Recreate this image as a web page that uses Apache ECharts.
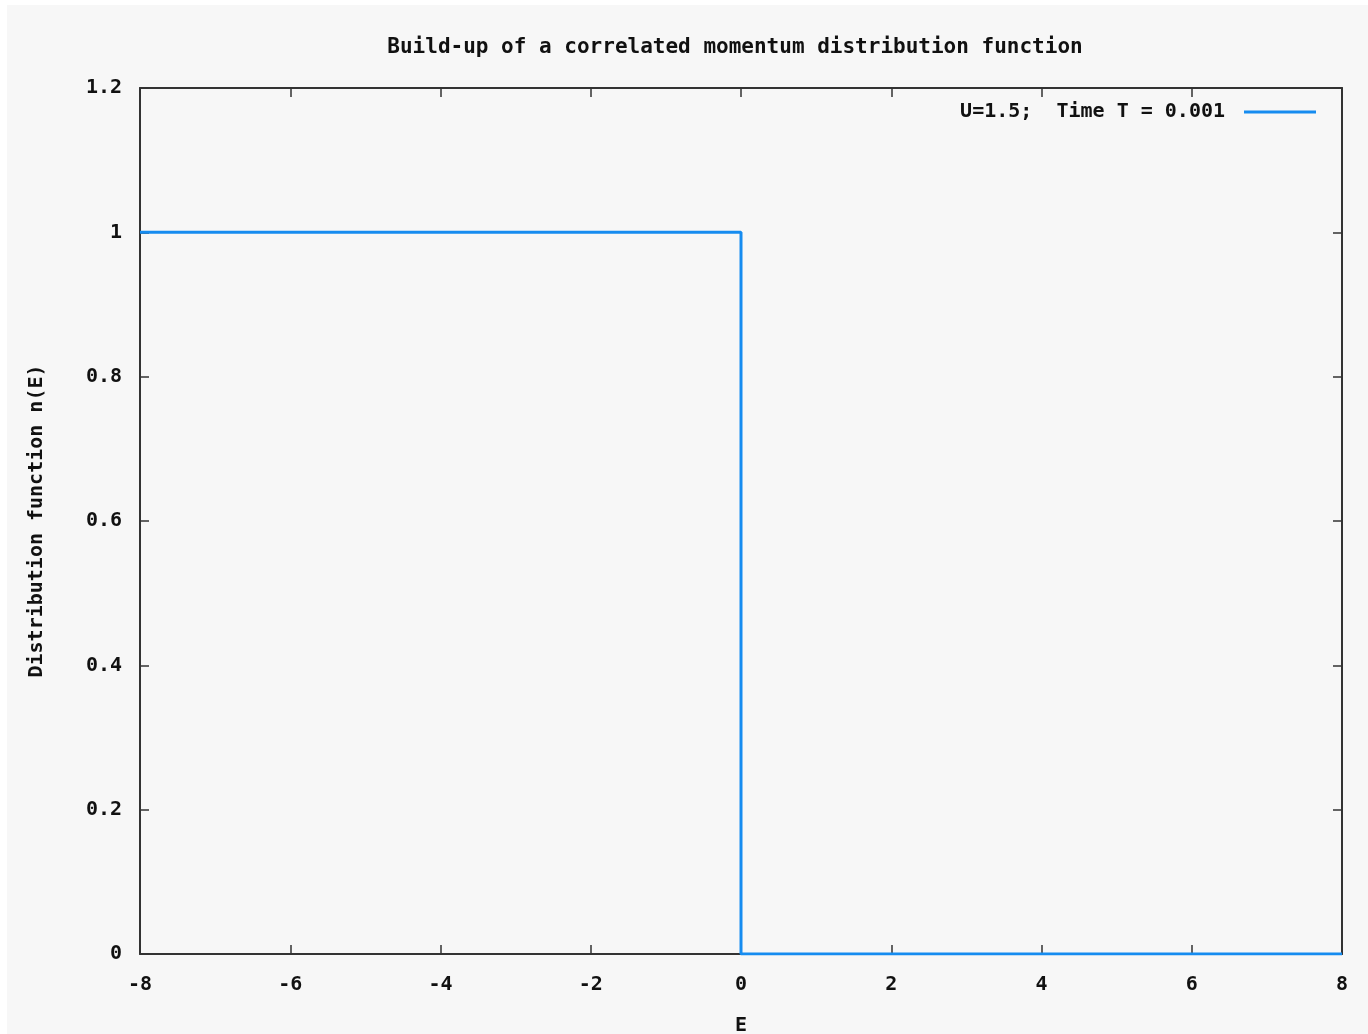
<!DOCTYPE html>
<html>
<head>
<meta charset="utf-8">
<script src="https://cdn.jsdelivr.net/npm/echarts@6/dist/echarts.min.js"></script>
<style>
  html, body { margin: 0; padding: 0; background: #ffffff; }
  /* gnuplot grey canvas, offset a little from the page corner */
  #chart {
    position: absolute;
    left: 7px;
    top: 5px;
    width: 1361px;
    height: 1029px;
  }
</style>
</head>
<body>
<div id="chart"></div>
<script>
// ---- data ----
const energy = [-8, 0, 0, 8];        // E
const occupation = [1, 1, 0, 0];     // n(E)
const xTicks = [-8, -6, -4, -2, 0, 2, 4, 6, 8];
const yTicks = [0, 0.2, 0.4, 0.6, 0.8, 1, 1.2];
const seriesName = "U=1.5;  Time T = 0.001";
// -----------------------------------

const font = "DejaVu Sans Mono";
const ink = "#111";
const frame = "#333";
const lineBlue = "#168cf0";

const chart = echarts.init(document.getElementById("chart"));

// gnuplot prints 0 as "0" and others with one decimal
function fmtY(v) {
  return Math.abs(v) < 1e-9 ? "0" : String(Math.round(v * 10) / 10);
}

const tickIn = { show: true, inside: true, length: 9, lineStyle: { color: frame, width: 1.5 } };
const frameLine = { show: true, onZero: false, lineStyle: { color: frame, width: 2 } };
const labelStyle = { color: ink, fontFamily: font, fontWeight: "bold", fontSize: 20 };

const option = {
  backgroundColor: "#f7f7f7",
  animation: false,
  title: {
    text: "Build-up of a correlated momentum distribution function",
    left: 723,
    textAlign: "center",
    top: 27,
    textStyle: { color: ink, fontFamily: font, fontWeight: "bold", fontSize: 21 },
  },
  legend: {
    right: 47,
    top: 92,
    align: "right",
    icon: "rect",
    itemWidth: 72,
    itemHeight: 3,
    textStyle: Object.assign({ padding: [0, 14, 0, 0] }, labelStyle),
    data: [seriesName],
  },
  grid: { left: 133, right: 26, top: 83, bottom: 80, outerBoundsMode: "none" },
  xAxis: [
    {
      type: "value",
      min: xTicks[0],
      max: xTicks[xTicks.length - 1],
      interval: 2,
      name: "E",
      nameLocation: "middle",
      nameGap: 62,
      nameTextStyle: labelStyle,
      axisLine: frameLine,
      axisTick: tickIn,
      axisLabel: Object.assign({ margin: 21 }, labelStyle),
      splitLine: { show: false },
    },
    {
      type: "value",
      position: "top",
      min: xTicks[0],
      max: xTicks[xTicks.length - 1],
      interval: 2,
      axisLine: frameLine,
      axisTick: tickIn,
      axisLabel: { show: false },
      splitLine: { show: false },
    },
  ],
  yAxis: [
    {
      type: "value",
      min: yTicks[0],
      max: yTicks[yTicks.length - 1],
      interval: 0.2,
      name: "Distribution function n(E)",
      nameLocation: "middle",
      nameGap: 93,
      nameTextStyle: labelStyle,
      axisLine: frameLine,
      axisTick: tickIn,
      axisLabel: Object.assign({ margin: 18, formatter: fmtY }, labelStyle),
      splitLine: { show: false },
    },
    {
      type: "value",
      position: "right",
      min: yTicks[0],
      max: yTicks[yTicks.length - 1],
      interval: 0.2,
      axisLine: frameLine,
      axisTick: tickIn,
      axisLabel: { show: false },
      splitLine: { show: false },
    },
  ],
  series: [
    {
      name: seriesName,
      type: "line",
      xAxisIndex: 0,
      yAxisIndex: 0,
      showSymbol: false,
      symbol: "none",
      data: energy.map((e, i) => [e, occupation[i]]),
      lineStyle: { color: lineBlue, width: 3 },
      itemStyle: { color: lineBlue },
      z: 1,
    },
  ],
};

chart.setOption(option);
</script>
</body>
</html>
